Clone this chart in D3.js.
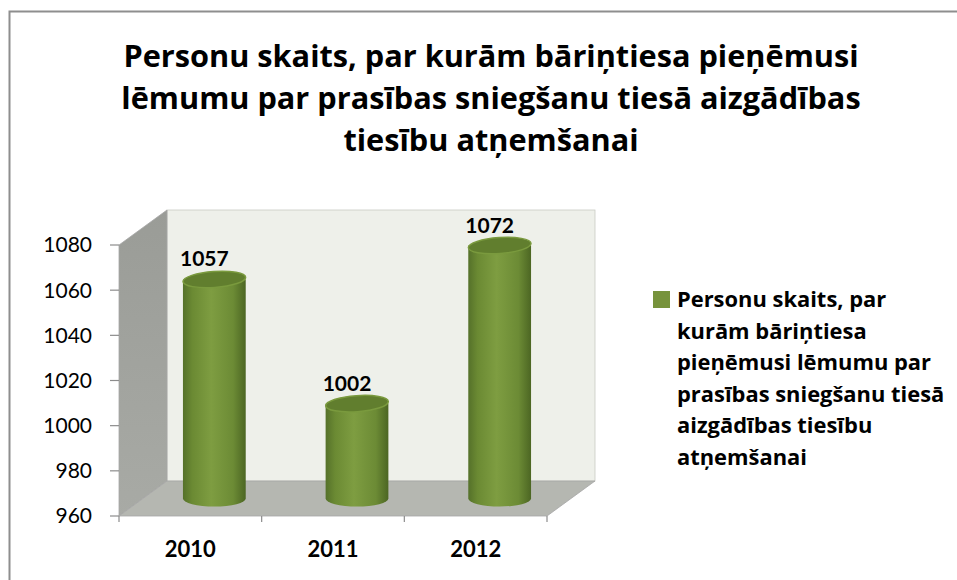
<!DOCTYPE html>
<meta charset="utf-8">
<style>
body { margin: 0; background: #fff; }
text { font-family: Lato, "Open Sans", sans-serif; fill: #000; }
.title { font-family: "Open Sans", sans-serif; font-size: 30.7px; font-weight: bold; }
.ytick { font-size: 21px; }
.xtick { font-size: 22px; font-weight: bold; }
.val { font-size: 21px; font-weight: bold; }
.leg { font-family: "Open Sans", sans-serif; font-size: 21.9px; font-weight: bold; }
</style>
<body>
<script src="https://d3js.org/d3.v7.min.js"></script>
<script>

var years = ["2010", "2011", "2012"];
var values = [1057, 1002, 1072];
var yTicks = [960, 980, 1000, 1020, 1040, 1060, 1080];
var titleLines = ["Personu skaits, par kurām bāriņtiesa pieņēmusi",
                  "lēmumu par prasības sniegšanu tiesā aizgādības",
                  "tiesību atņemšanai"];
var legendLines = ["Personu skaits, par", "kurām bāriņtiesa", "pieņēmusi lēmumu par",
                   "prasības sniegšanu tiesā", "aizgādības tiesību", "atņemšanai"];

var width = 957, height = 580;
var depthX = 48, depthY = -35;

var svg = d3.select("body").append("svg")
    .attr("width", width)
    .attr("height", height);

var defs = svg.append("defs");

var cyl = defs.append("linearGradient").attr("id", "cyl");
cyl.append("stop").attr("offset", "0%").attr("stop-color", "#55712a");
cyl.append("stop").attr("offset", "15%").attr("stop-color", "#6b8a33");
cyl.append("stop").attr("offset", "45%").attr("stop-color", "#7e9d41");
cyl.append("stop").attr("offset", "80%").attr("stop-color", "#6c8b35");
cyl.append("stop").attr("offset", "100%").attr("stop-color", "#4c6623");

var wall = defs.append("linearGradient").attr("id", "wall")
    .attr("x1", 0).attr("y1", 0).attr("x2", 0).attr("y2", 1);
wall.append("stop").attr("offset", "0%").attr("stop-color", "#9a9c97");
wall.append("stop").attr("offset", "100%").attr("stop-color", "#a8aaa5");

// frame
svg.append("path")
    .attr("d", "M9.5,580V11.5H957")
    .attr("fill", "none")
    .attr("stroke", "#8e8e8e")
    .attr("stroke-width", 2);

// title
svg.append("g").selectAll("text")
    .data(titleLines)
  .enter().append("text")
    .attr("class", "title")
    .attr("x", 491)
    .attr("y", function(d, i) { return 67 + i * 42; })
    .attr("text-anchor", "middle")
    .text(function(d) { return d; });

var x = d3.scaleBand()
    .domain(years)
    .range([119, 547]);

var y = d3.scaleLinear()
    .domain([960, 1080])
    .range([516, 245]);

var x0 = x.range()[0], x1 = x.range()[1];
var yb = y(960), yt = y(1080);

// back wall
svg.append("rect")
    .attr("x", x0 + depthX)
    .attr("y", yt + depthY)
    .attr("width", x1 - x0)
    .attr("height", yb - yt)
    .attr("fill", "#eef0ea")
    .attr("stroke", "#c8cac4")
    .attr("stroke-width", 0.8);

// left wall
svg.append("polygon")
    .attr("points", [[x0, yt], [x0 + depthX, yt + depthY], [x0 + depthX, yb + depthY], [x0, yb]].join(" "))
    .attr("fill", "url(#wall)")
    .attr("stroke", "#a6a6a6")
    .attr("stroke-width", 0.8);

// floor
svg.append("polygon")
    .attr("points", [[x0, yb], [x1, yb], [x1 + depthX, yb + depthY], [x0 + depthX, yb + depthY]].join(" "))
    .attr("fill", "#b5b7b1")
    .attr("stroke", "#a6a6a6")
    .attr("stroke-width", 0.8);

// y axis ticks
var yAxis = svg.append("g");
yAxis.selectAll("line")
    .data(yTicks)
  .enter().append("line")
    .attr("x1", x0 - 9).attr("x2", x0)
    .attr("y1", function(d) { return y(d); })
    .attr("y2", function(d) { return y(d); })
    .attr("stroke", "#8c8c8c")
    .attr("stroke-width", 1.2);
yAxis.selectAll("text")
    .data(yTicks)
  .enter().append("text")
    .attr("class", "ytick")
    .attr("x", 92)
    .attr("y", function(d) { return y(d); })
    .attr("dy", "0.35em")
    .attr("text-anchor", "end")
    .text(function(d) { return d; });

// x axis ticks
var xEdges = years.map(function(d) { return x(d); }).concat([x1]);
svg.append("g").selectAll("line")
    .data(xEdges)
  .enter().append("line")
    .attr("x1", function(d) { return d; })
    .attr("x2", function(d) { return d; })
    .attr("y1", yb).attr("y2", yb + 6)
    .attr("stroke", "#8c8c8c")
    .attr("stroke-width", 1.2);

svg.append("g").selectAll("text")
    .data(years)
  .enter().append("text")
    .attr("class", "xtick")
    .attr("x", function(d) { return x(d) + x.bandwidth() / 2; })
    .attr("y", 557)
    .attr("text-anchor", "middle")
    .text(function(d) { return d; });

// cylinders
var rx = x.bandwidth() * 0.22, ry = 8;
var bars = svg.append("g").selectAll("g")
    .data(values)
  .enter().append("g")
    .attr("transform", function(d, i) {
      return "translate(" + (x(years[i]) + x.bandwidth() / 2 + depthX / 2) + ",0)";
    });

bars.append("path")
    .attr("d", function(d) {
      var top = y(d) + depthY / 2, bot = yb + depthY / 2;
      return "M" + (-rx) + "," + top + "V" + bot +
        "A" + rx + "," + ry + " 0 0 0 " + rx + "," + bot +
        "V" + top + "Z";
    })
    .attr("fill", "url(#cyl)");

bars.append("ellipse")
    .attr("cx", 0)
    .attr("cy", function(d) { return y(d) + depthY / 2; })
    .attr("rx", rx)
    .attr("ry", ry)
    .attr("transform", function(d) { return "rotate(-4,0," + (y(d) + depthY / 2) + ")"; })
    .attr("fill", "#617e2e")
    .attr("stroke", "#7a9a3e")
    .attr("stroke-width", 1.5);

// value labels
svg.append("g").selectAll("text")
    .data(values)
  .enter().append("text")
    .attr("class", "val")
    .attr("x", function(d, i) { return x(years[i]) + x.bandwidth() / 2 + 14; })
    .attr("y", function(d) { return y(d) + depthY / 2 - 13; })
    .attr("text-anchor", "middle")
    .text(function(d) { return d; });

// legend
var legend = svg.append("g");
legend.append("rect")
    .attr("x", 653).attr("y", 291)
    .attr("width", 17).attr("height", 17)
    .attr("fill", "#77933c");
legend.selectAll("text")
    .data(legendLines)
  .enter().append("text")
    .attr("class", "leg")
    .attr("x", 677)
    .attr("y", function(d, i) { return 307 + i * 31.6; })
    .text(function(d) { return d; });

</script>
